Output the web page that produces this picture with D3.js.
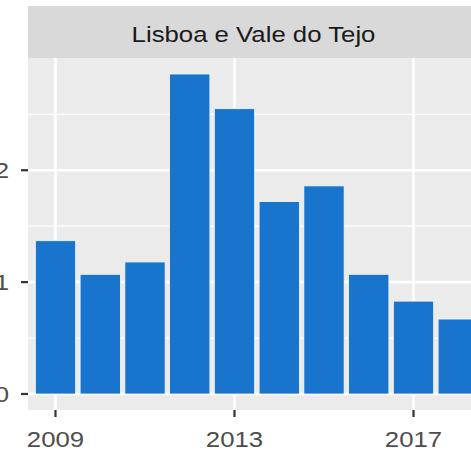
<!DOCTYPE html>
<html>
<head>
<meta charset="utf-8">
<script src="https://cdn.jsdelivr.net/npm/d3@7"></script>
<style>
    body { margin: 0; background: #fff; }
    text { font-family: "Liberation Sans", Arial, sans-serif; }
</style>
</head>
<body>
<div id="chartContainer"></div>
<script>
// data
var years = [2009, 2010, 2011, 2012, 2013, 2014, 2015, 2016, 2017, 2018];
var values = [1.37, 1.07, 1.18, 2.86, 2.55, 1.72, 1.86, 1.07, 0.83, 0.67];
var xTicks = [2009, 2013, 2017];
var yTicks = [0, 1, 2];
var yMinor = [0.5, 1.5, 2.5];
var facetTitle = "Lisboa e Vale do Tejo";

var width = 471, height = 452;
var panel = { left: 28, right: 479, top: 58, bottom: 410 };
var stripTop = 6;
var stretch = 1.12; // the source text is a bit wider than Liberation Sans

var svg = d3.select("#chartContainer")
    .append("svg")
    .attr("width", width)
    .attr("height", height);

var x = d3.scaleLinear()
    .domain([2009, 2017])
    .range([55.5, 413.5]);

var maxV = d3.max(values);
var y = d3.scaleLinear()
    .domain([-0.05 * maxV, 1.05 * maxV])
    .range([panel.bottom, panel.top]);

function label(px, py, anchor, color, txt) {
    svg.append("text")
        .attr("transform", `translate(${px},${py}) scale(${stretch},1)`)
        .attr("text-anchor", anchor)
        .attr("fill", color)
        .attr("font-size", 23)
        .text(txt);
}

// strip
svg.append("rect")
    .attr("x", panel.left)
    .attr("y", stripTop)
    .attr("width", panel.right - panel.left)
    .attr("height", panel.top - stripTop)
    .attr("fill", "#D9D9D9");

label(253.5, 41.5, "middle", "#1A1A1A", facetTitle);

// panel background
svg.append("rect")
    .attr("x", panel.left)
    .attr("y", panel.top)
    .attr("width", panel.right - panel.left)
    .attr("height", panel.bottom - panel.top)
    .attr("fill", "#EBEBEB");

// grid
svg.selectAll(".yminor")
    .data(yMinor)
    .enter().append("line")
    .attr("x1", panel.left).attr("x2", panel.right)
    .attr("y1", d => y(d)).attr("y2", d => y(d))
    .attr("stroke", "#fff").attr("stroke-width", 1.3);

svg.selectAll(".ymajor")
    .data(yTicks)
    .enter().append("line")
    .attr("x1", panel.left).attr("x2", panel.right)
    .attr("y1", d => y(d)).attr("y2", d => y(d))
    .attr("stroke", "#fff").attr("stroke-width", 2.6);

svg.selectAll(".xmajor")
    .data(xTicks)
    .enter().append("line")
    .attr("x1", d => x(d)).attr("x2", d => x(d))
    .attr("y1", panel.top).attr("y2", panel.bottom)
    .attr("stroke", "#fff").attr("stroke-width", 2.6);

// bars
svg.selectAll(".bar")
    .data(years)
    .enter().append("rect")
    .attr("x", d => x(d - 0.45))
    .attr("width", x(2009.9) - x(2009))
    .attr("y", (d, i) => y(values[i]))
    .attr("height", (d, i) => y(0) - y(values[i]))
    .attr("fill", "#1874CD")
    .attr("stroke", "#F4F8FC")
    .attr("stroke-width", 0.8);

// axes
svg.selectAll(".xtick")
    .data(xTicks)
    .enter().append("line")
    .attr("x1", d => x(d)).attr("x2", d => x(d))
    .attr("y1", panel.bottom).attr("y2", panel.bottom + 7)
    .attr("stroke", "#333").attr("stroke-width", 2.2);

xTicks.forEach(function (d) {
    label(x(d), 447, "middle", "#4D4D4D", d);
});

svg.selectAll(".ytick")
    .data(yTicks)
    .enter().append("line")
    .attr("x1", panel.left - 7).attr("x2", panel.left)
    .attr("y1", d => y(d)).attr("y2", d => y(d))
    .attr("stroke", "#333").attr("stroke-width", 2.2);

yTicks.forEach(function (d) {
    label(9, y(d) + 8, "end", "#4D4D4D", d);
});
</script>
</body>
</html>
